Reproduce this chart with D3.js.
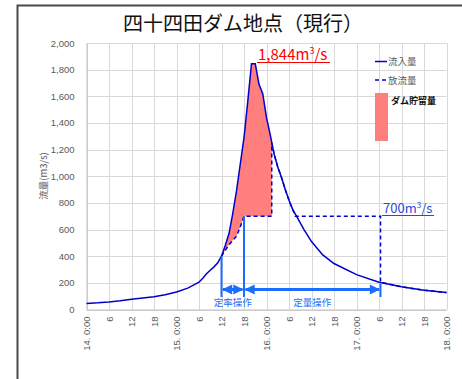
<!DOCTYPE html>
<html>
<head>
<meta charset="utf-8">
<script src="https://cdn.jsdelivr.net/npm/d3@7"></script>
<style>
  body { margin: 0; background: #fff; }
  text { font-family: "Noto Sans CJK JP", "Noto Sans", sans-serif; }
</style>
</head>
<body>
<script>
// inflow (流入量), hours counted from 14日 0:00
const inflowHours  = [0, 3, 6, 9, 12, 15, 18, 21, 24, 27, 30, 31, 32, 33, 34, 35, 36, 37, 38, 39, 40, 41, 42, 43, 44, 45, 46, 47, 48, 49, 50, 51, 52, 53, 54, 55, 56, 57, 58, 60, 63, 66, 72, 78, 84, 90, 96];
const inflowValues = [45, 50, 57, 66, 77, 86, 95, 110, 132, 160, 205, 235, 268, 295, 320, 350, 400, 480, 570, 720, 890, 1090, 1290, 1560, 1844, 1844, 1690, 1620, 1440, 1310, 1170, 1070, 990, 900, 820, 750, 700, 650, 600, 510, 410, 345, 262, 205, 170, 145, 127];

// outflow (放流量), dashed
const outflowHours  = [36, 37, 38, 39, 40, 41, 42, 49.4, 49.4, 50, 51, 52, 53, 54, 55, 55.7, 78.4, 78.4, 84, 90, 96];
const outflowValues = [400, 445, 485, 520, 550, 620, 700, 700, 1250, 1170, 1070, 990, 900, 820, 750, 700, 700, 205, 170, 145, 127];

// storage (ダム貯留量) between inflow and outflow
const storageHours = [36, 37, 38, 39, 40, 41, 42, 43, 44, 45, 46, 47, 48, 49, 49.4];
const storageUpper = [400, 480, 570, 720, 890, 1090, 1290, 1560, 1844, 1844, 1690, 1620, 1440, 1310, 1250];
const storageLower = [400, 445, 485, 520, 550, 620, 700, 700, 700, 700, 700, 700, 700, 700, 700];

const xTickHours  = [0, 6, 12, 18, 24, 30, 36, 42, 48, 54, 60, 66, 72, 78, 84, 90, 96];
const xTickLabels = ["14. 0:00", "6", "12", "18", "15. 0:00", "6", "12", "18", "16. 0:00", "6", "12", "18", "17. 0:00", "6", "12", "18", "18. 0:00"];
const yTicks = [0, 200, 400, 600, 800, 1000, 1200, 1400, 1600, 1800, 2000];

// operation periods (hours)
const rateOp = [36, 42];      // 定率操作
const constOp = [42, 78.4];   // 定量操作
const peakValue = 1844;
const constOutflow = 700;

const W = 462, H = 379;
const svg = d3.select("body").append("svg")
    .attr("width", W)
    .attr("height", H);

svg.append("defs").append("marker")
    .attr("id", "arr")
    .attr("viewBox", "0 0 10 10")
    .attr("refX", 9).attr("refY", 5)
    .attr("markerWidth", 4).attr("markerHeight", 3.4)
    .attr("markerUnits", "strokeWidth")
    .attr("orient", "auto-start-reverse")
  .append("path")
    .attr("d", "M0,0L10,5L0,10Z")
    .attr("fill", "#1a6dff");

// outer frame
svg.append("rect")
    .attr("x", 17.5).attr("y", 5.5)
    .attr("width", 500).attr("height", 420)
    .attr("fill", "none")
    .attr("stroke", "#4a4a4a")
    .attr("stroke-width", 2);

const x = d3.scaleLinear().domain([0, 96]).range([86.5, 446.5]);
const y = d3.scaleLinear().domain([0, 2000]).range([309.5, 43]);

// grid
svg.append("g")
    .selectAll("line").data(yTicks).join("line")
    .attr("x1", x(0)).attr("x2", x(96))
    .attr("y1", d => Math.round(y(d)) + 0.5).attr("y2", d => Math.round(y(d)) + 0.5)
    .attr("stroke", "#d9d9d9");
svg.append("g")
    .selectAll("line").data(xTickHours).join("line")
    .attr("x1", d => Math.round(x(d)) + 0.5).attr("x2", d => Math.round(x(d)) + 0.5)
    .attr("y1", y(0)).attr("y2", y(2000))
    .attr("stroke", "#d9d9d9");

// axes
const yAxis = svg.append("g")
    .attr("transform", `translate(${x(0)},0)`)
    .call(d3.axisLeft(y).tickValues(yTicks).tickFormat(d3.format(",")).tickSize(0).tickPadding(12));
yAxis.select(".domain").attr("stroke", "#bfbfbf");
yAxis.selectAll("text").attr("fill", "#595959").style("font-size", "9.5px")
    .style("font-family", "'Liberation Sans', sans-serif");

const xAxis = svg.append("g")
    .attr("transform", `translate(0,${y(0)})`)
    .call(d3.axisBottom(x).tickValues(xTickHours).tickFormat((d, i) => xTickLabels[i]).tickSize(0));
xAxis.select(".domain").attr("stroke", "#bfbfbf");
xAxis.selectAll("text")
    .attr("fill", "#595959")
    .style("font-size", "9.5px")
    .style("font-family", "'Liberation Sans', sans-serif")
    .attr("text-anchor", "end")
    .attr("transform", "rotate(-90)")
    .attr("x", -7).attr("y", 0).attr("dy", "0.35em");

// storage area
const area = d3.area()
    .x((d, i) => x(storageHours[i]))
    .y0((d, i) => y(storageLower[i]))
    .y1((d, i) => y(storageUpper[i]));
svg.append("path")
    .datum(storageHours)
    .attr("fill", "#ff7f7f")
    .attr("d", area);

// outflow dashed
const outLine = d3.line().x((d, i) => x(outflowHours[i])).y(d => y(d));
svg.append("path")
    .datum(outflowValues)
    .attr("fill", "none")
    .attr("stroke", "#0000cc")
    .attr("stroke-width", 1.5)
    .attr("stroke-dasharray", "4,3")
    .attr("d", outLine);

// inflow solid
const inLine = d3.line().x((d, i) => x(inflowHours[i])).y(d => y(d));
svg.append("path")
    .datum(inflowValues)
    .attr("fill", "none")
    .attr("stroke", "#0000cc")
    .attr("stroke-width", 1.5)
    .attr("d", inLine);

// operation markers
const opBlue = "#1a6dff";
const barY = 289.5;
[[rateOp[0], y(400)], [rateOp[1], y(constOutflow)], [constOp[1], 284]].forEach(([h, top]) => {
  svg.append("line")
      .attr("x1", x(h)).attr("x2", x(h))
      .attr("y1", top).attr("y2", 297)
      .attr("stroke", opBlue).attr("stroke-width", 2);
});
[rateOp, constOp].forEach(r => {
  svg.append("line")
      .attr("x1", x(r[0]) + 1.5).attr("x2", x(r[1]) - 1.5)
      .attr("y1", barY).attr("y2", barY)
      .attr("stroke", opBlue).attr("stroke-width", 3)
      .attr("marker-start", "url(#arr)")
      .attr("marker-end", "url(#arr)");
});
svg.append("text")
    .attr("x", x((rateOp[0] + rateOp[1]) / 2)).attr("y", 306)
    .attr("text-anchor", "middle").attr("fill", opBlue)
    .style("font-size", "9.5px")
    .text("定率操作");
svg.append("text")
    .attr("x", x((constOp[0] + constOp[1]) / 2)).attr("y", 306)
    .attr("text-anchor", "middle").attr("fill", opBlue)
    .style("font-size", "9.5px")
    .text("定量操作");

// title
svg.append("text")
    .attr("x", 243).attr("y", 31)
    .attr("text-anchor", "middle")
    .attr("fill", "#111")
    .style("font-size", "20px")
    .text("四十四田ダム地点（現行）");

// y label
svg.append("text")
    .attr("transform", "translate(47,176) rotate(-90)")
    .attr("text-anchor", "middle")
    .attr("fill", "#595959")
    .style("font-size", "9.5px")
    .text("流量(m3/s)");

// peak label
const peakText = svg.append("text")
    .attr("x", 258).attr("y", 60)
    .attr("fill", "#ff0000")
    .style("font-size", "15px");
peakText.append("tspan").text(d3.format(",")(peakValue) + "m");
peakText.append("tspan").attr("dy", -6).style("font-size", "9px").text("3");
peakText.append("tspan").attr("dy", 6).text("/s");
svg.append("line")
    .attr("x1", 257).attr("x2", 330).attr("y1", 62.5).attr("y2", 62.5)
    .attr("stroke", "#ff0000").attr("stroke-width", 1.2);

// 700 label
const constText = svg.append("text")
    .attr("x", 383).attr("y", 213)
    .attr("fill", "#2b4bd6")
    .style("font-size", "13px");
constText.append("tspan").text(constOutflow + "m");
constText.append("tspan").attr("dy", -5).style("font-size", "8px").text("3");
constText.append("tspan").attr("dy", 5).text("/s");
svg.append("line")
    .attr("x1", 382).attr("x2", 434).attr("y1", 215.5).attr("y2", 215.5)
    .attr("stroke", "#2b4bd6").attr("stroke-width", 1);

// legend
const lg = svg.append("g");
lg.append("line").attr("x1", 375).attr("x2", 387).attr("y1", 61.5).attr("y2", 61.5)
    .attr("stroke", "#0000cc").attr("stroke-width", 1.5);
lg.append("text").attr("x", 388).attr("y", 65).attr("fill", "#595959").style("font-size", "9.5px").text("流入量");
lg.append("line").attr("x1", 375).attr("x2", 387).attr("y1", 80).attr("y2", 80)
    .attr("stroke", "#0000cc").attr("stroke-width", 1.5).attr("stroke-dasharray", "4,3");
lg.append("text").attr("x", 388).attr("y", 83.5).attr("fill", "#595959").style("font-size", "9.5px").text("放流量");
lg.append("rect").attr("x", 375).attr("y", 93).attr("width", 13).attr("height", 48).attr("fill", "#ff7f7f");
lg.append("text").attr("x", 391).attr("y", 104).attr("fill", "#111")
    .style("font-size", "9px").style("font-weight", "bold").text("ダム貯留量");
</script>
</body>
</html>
